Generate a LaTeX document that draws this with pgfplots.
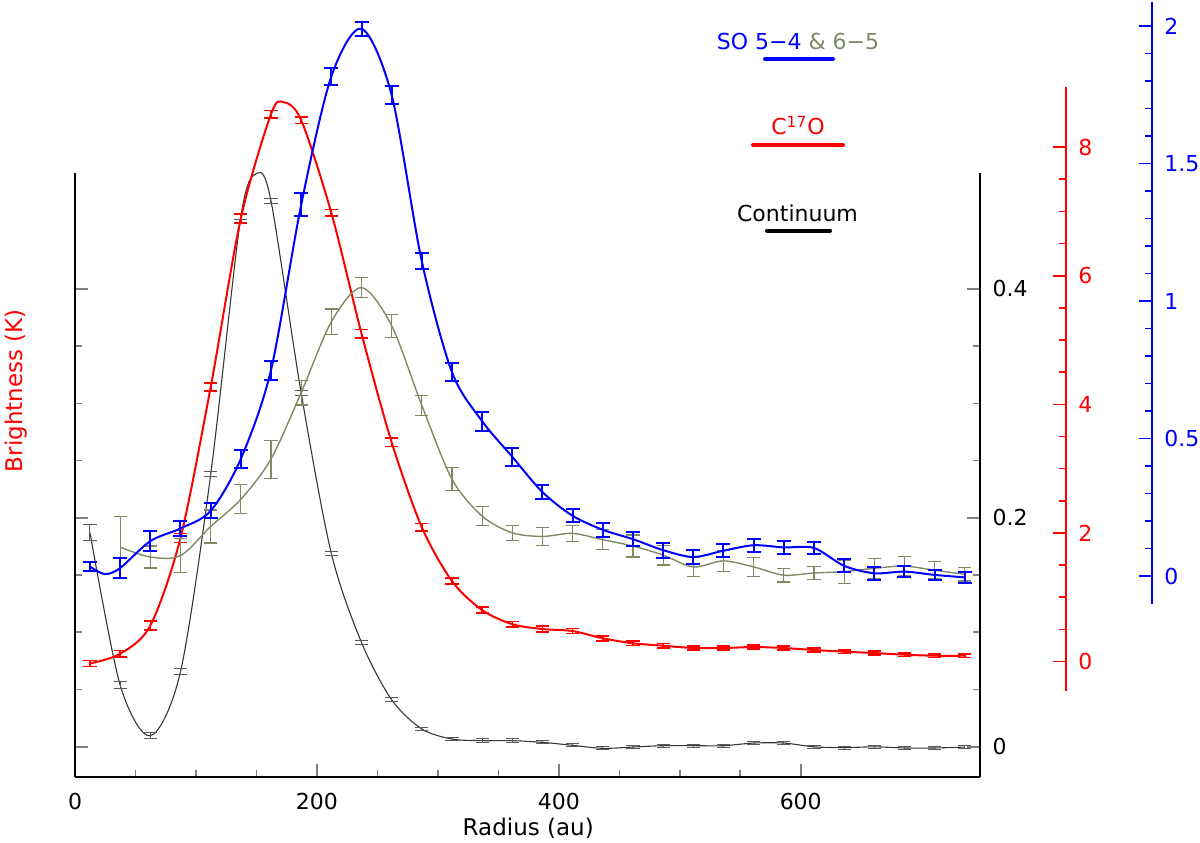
\documentclass[border=0pt]{standalone}
\usepackage{pgfplots}
\pgfplotsset{compat=1.18}
\usepackage{pgfplotstable}
\usepackage{fontspec}
\setmainfont{DejaVu Sans}
\definecolor{olivegr}{RGB}{125,138,100}
\definecolor{contgray}{RGB}{55,55,55}

% Continuum (black axis)
\pgfplotstableread{
x y e
12.4 0.187 0.0068
37.3 0.054 0.0033
62.3 0.0095 0.0026
87.2 0.0655 0.0026
112.2 0.238 0.0022
137.1 0.463 0.0022
162.0 0.477 0.0022
187.0 0.309 0.0022
211.9 0.169 0.0020
236.9 0.091 0.0020
261.8 0.041 0.0018
286.7 0.0155 0.0016
311.7 0.0067 0.0015
336.6 0.0053 0.0015
361.6 0.0053 0.0015
386.5 0.0038 0.0014
411.4 0.0012 0.0014
436.4 -0.0014 0.0014
461.3 -0.0003 0.0013
486.3 0.0009 0.0013
511.2 0.0009 0.0013
536.1 0.0009 0.0013
561.1 0.0032 0.0013
586.0 0.0032 0.0013
611.0 -0.0001 0.0013
635.9 -0.0008 0.0013
660.8 -0.0001 0.0013
685.8 -0.0011 0.0013
710.7 -0.0011 0.0013
735.7 -0.0003 0.0013
}\conttab
\pgfplotstableread{
x y
12.4 0.187
37.3 0.054
62.3 0.0095
87.2 0.0655
112.2 0.238
137.1 0.463
150.5 0.501
162.0 0.477
187.0 0.309
211.9 0.169
236.9 0.091
261.8 0.041
286.7 0.0155
311.7 0.0067
336.6 0.0053
361.6 0.0053
386.5 0.0038
411.4 0.0012
436.4 -0.0014
461.3 -0.0003
486.3 0.0009
511.2 0.0009
536.1 0.0009
561.1 0.0032
586.0 0.0032
611.0 -0.0001
635.9 -0.0008
660.8 -0.0001
685.8 -0.0011
710.7 -0.0011
735.7 -0.0003
}\contcurve

% C17O (red axis)
\pgfplotstableread{
x y e
12.4 -0.03 0.045
37.3 0.12 0.05
62.3 0.56 0.07
87.2 1.92 0.07
112.2 4.27 0.065
137.1 6.89 0.07
162.0 8.51 0.06
187.0 8.42 0.05
211.9 6.98 0.05
236.9 5.10 0.065
261.8 3.41 0.065
286.7 2.09 0.058
311.7 1.25 0.047
336.6 0.80 0.047
361.6 0.58 0.044
386.5 0.505 0.044
411.4 0.474 0.04
436.4 0.361 0.04
461.3 0.283 0.036
486.3 0.246 0.036
511.2 0.210 0.033
536.1 0.210 0.033
561.1 0.225 0.033
586.0 0.210 0.033
611.0 0.179 0.03
635.9 0.153 0.028
660.8 0.132 0.028
685.8 0.106 0.028
710.7 0.090 0.028
735.7 0.090 0.028
}\redtab
\pgfplotstableread{
x y
12.4 -0.03
37.3 0.12
62.3 0.56
87.2 1.92
112.2 4.27
137.1 6.89
162.0 8.51
172.2 8.70
187.0 8.42
211.9 6.98
236.9 5.10
261.8 3.41
286.7 2.09
311.7 1.25
336.6 0.80
361.6 0.58
386.5 0.505
411.4 0.474
436.4 0.361
461.3 0.283
486.3 0.246
511.2 0.210
536.1 0.210
561.1 0.225
586.0 0.210
611.0 0.179
635.9 0.153
660.8 0.132
685.8 0.106
710.7 0.090
735.7 0.090
}\redcurve

% SO 5-4 (blue axis)
\pgfplotstableread{
x y e
12.4 0.034 0.017
37.3 0.029 0.038
62.3 0.127 0.036
87.2 0.173 0.027
112.2 0.237 0.027
137.1 0.426 0.032
162.0 0.748 0.035
187.0 1.35 0.041
211.9 1.816 0.032
236.9 1.99 0.026
261.8 1.749 0.033
286.7 1.145 0.030
311.7 0.741 0.033
336.6 0.563 0.035
361.6 0.433 0.032
386.5 0.305 0.025
411.4 0.219 0.024
436.4 0.168 0.025
461.3 0.134 0.026
486.3 0.094 0.027
511.2 0.069 0.025
536.1 0.092 0.024
561.1 0.112 0.023
586.0 0.104 0.024
611.0 0.102 0.023
635.9 0.037 0.024
660.8 0.010 0.024
685.8 0.016 0.021
710.7 0.004 0.018
735.7 -0.005 0.020
}\bluetab
\pgfplotstableread{
x y
12.4 0.034
24.8 0.007
37.3 0.029
62.3 0.127
87.2 0.173
112.2 0.237
137.1 0.426
162.0 0.748
187.0 1.35
211.9 1.816
236.9 1.99
261.8 1.749
286.7 1.145
311.7 0.741
336.6 0.563
361.6 0.433
386.5 0.305
411.4 0.219
436.4 0.168
461.3 0.134
486.3 0.094
511.2 0.069
536.1 0.092
561.1 0.112
586.0 0.104
611.0 0.102
635.9 0.037
660.8 0.010
685.8 0.016
710.7 0.004
735.7 -0.005
}\bluecurve

% SO 6-5 (blue axis)
\pgfplotstableread{
x y e
37.3 0.105 0.11
62.3 0.069 0.040
87.2 0.074 0.062
112.2 0.180 0.06
137.1 0.279 0.053
162.0 0.425 0.069
187.0 0.667 0.045
211.9 0.924 0.047
236.9 1.049 0.036
261.8 0.910 0.042
286.7 0.621 0.036
311.7 0.352 0.042
336.6 0.218 0.035
361.6 0.157 0.027
386.5 0.144 0.032
411.4 0.155 0.030
436.4 0.132 0.037
461.3 0.109 0.040
486.3 0.076 0.036
511.2 0.033 0.035
536.1 0.055 0.038
561.1 0.033 0.035
586.0 0.003 0.025
611.0 0.011 0.025
635.9 0.016 0.042
660.8 0.028 0.036
685.8 0.036 0.035
710.7 0.021 0.032
735.7 0.006 0.024
}\olivetab

\pgfplotsset{
  base/.style={
    scale only axis, enlargelimits=false, clip=false,
    /pgf/number format/assume math mode=true,
    /pgf/number format/fixed,
    major tick length=6.5pt, minor tick length=3.5pt,
    tick label style={font=\fontsize{11}{13}\selectfont},
    axis line style={line width=0.8pt},
    tick style={line width=0.8pt},
  },
  ebars/.style n args={3}{draw=none, mark=none,
    error bars/.cd, y dir=both, y explicit, error mark=|,
    error bar style={draw=#1, line width=#2, solid},
    error mark options={draw=#1, line width=#2, mark size=#3, solid}},
}

\begin{document}
\begin{tikzpicture}
\useasboundingbox (0,0) rectangle (600pt,421pt);

% ---- main black axis (bottom + left) with continuum
\begin{axis}[base,
  at={(37.5pt,32.65pt)}, anchor=south west,
  width=452.5pt, height=301.7pt,
  xmin=0, xmax=748.2, ymin=-0.0262, ymax=0.501,
  axis x line*=bottom, axis y line*=left,
  tick align=inside,
  xtick={0,200,400,600}, minor x tick num=3,
  ytick={0,0.2,0.4}, minor y tick num=3,
  yticklabels={},
  xticklabel style={yshift=-4.5pt},
]
\addplot[contgray, line width=0.55pt, smooth, tension=0.5] table[x=x,y=y] {\contcurve};
\addplot[ebars={black!65}{0.5pt}{3.3pt}] table[x=x,y=y,y error=e] {\conttab};
\end{axis}

% ---- black right axis with labels
\begin{axis}[base,
  at={(37.5pt,32.65pt)}, anchor=south west,
  width=452.5pt, height=301.7pt,
  xmin=0, xmax=748.2, ymin=-0.0262, ymax=0.501,
  axis x line=none, xtick=\empty,
  axis y line*=right, yticklabel pos=right,
  tick align=inside,
  ytick={0,0.2,0.4}, minor y tick num=3,
  yticklabel style={xshift=2.8pt},
]
\end{axis}

% ---- red axis: C17O
\begin{axis}[base,
  at={(37.5pt,75.65pt)}, anchor=south west,
  width=495.35pt, height=301.7pt,
  xmin=0, xmax=819.1, ymin=-0.454, ymax=8.93,
  axis x line=none, xtick=\empty,
  axis y line*=right, yticklabel pos=right,
  tick align=inside,
  ytick={0,2,4,6,8}, minor y tick num=3,
  y axis line style={red, line width=0.8pt},
  tick style={red, line width=0.8pt},
  yticklabel style={red, xshift=2.8pt},
]
\addplot[red, line width=1pt, smooth, tension=0.5] table[x=x,y=y] {\redcurve};
\addplot[ebars={red}{0.8pt}{3.3pt}] table[x=x,y=y,y error=e] {\redtab};
\end{axis}

% ---- blue axis: SO
\begin{axis}[base,
  at={(37.5pt,119pt)}, anchor=south west,
  width=538.35pt, height=301.15pt,
  xmin=0, xmax=890.2, ymin=-0.1018, ymax=2.0884,
  axis x line=none, xtick=\empty,
  axis y line*=right, yticklabel pos=right,
  tick align=inside,
  ytick={0,0.5,1,1.5,2}, minor y tick num=4,
  y axis line style={blue, line width=0.8pt},
  tick style={blue, line width=0.8pt},
  yticklabel style={blue, xshift=2.8pt},
]
\addplot[olivegr, line width=0.7pt, smooth, tension=0.5] table[x=x,y=y] {\olivetab};
\addplot[ebars={olivegr}{0.6pt}{3.3pt}] table[x=x,y=y,y error=e] {\olivetab};
\addplot[blue, line width=1pt, smooth, tension=0.5] table[x=x,y=y] {\bluecurve};
\addplot[ebars={blue}{1pt}{3.5pt}] table[x=x,y=y,y error=e] {\bluetab};
\end{axis}

% ---- labels and legend
\node[anchor=base, font=\fontsize{11.5}{13}\selectfont] at (264.1pt,3.5pt) {Radius (au)};
\node[anchor=base, rotate=90, red, font=\fontsize{11.5}{13}\selectfont] at (11.3pt,225.6pt) {Brightness (K)};

\node[anchor=base, font=\fontsize{11}{13}\selectfont] at (399pt,396.35pt) {\textcolor{blue}{SO 5−4} \textcolor{olivegr}{\& 6−5}};
\draw[blue, line width=2pt, line cap=round] (382.5pt,391.5pt) -- (416.5pt,391.5pt);

\node[anchor=base, red, font=\fontsize{11}{13}\selectfont] at (399pt,353.5pt) {C\textsuperscript{17}O};
\draw[red, line width=2pt, line cap=round] (376.5pt,348.5pt) -- (421.5pt,348.5pt);

\node[anchor=base, font=\fontsize{11}{13}\selectfont] at (398.75pt,310.15pt) {Continuum};
\draw[black, line width=2pt, line cap=round] (383.5pt,305.65pt) -- (415pt,305.65pt);
\end{tikzpicture}
\end{document}
